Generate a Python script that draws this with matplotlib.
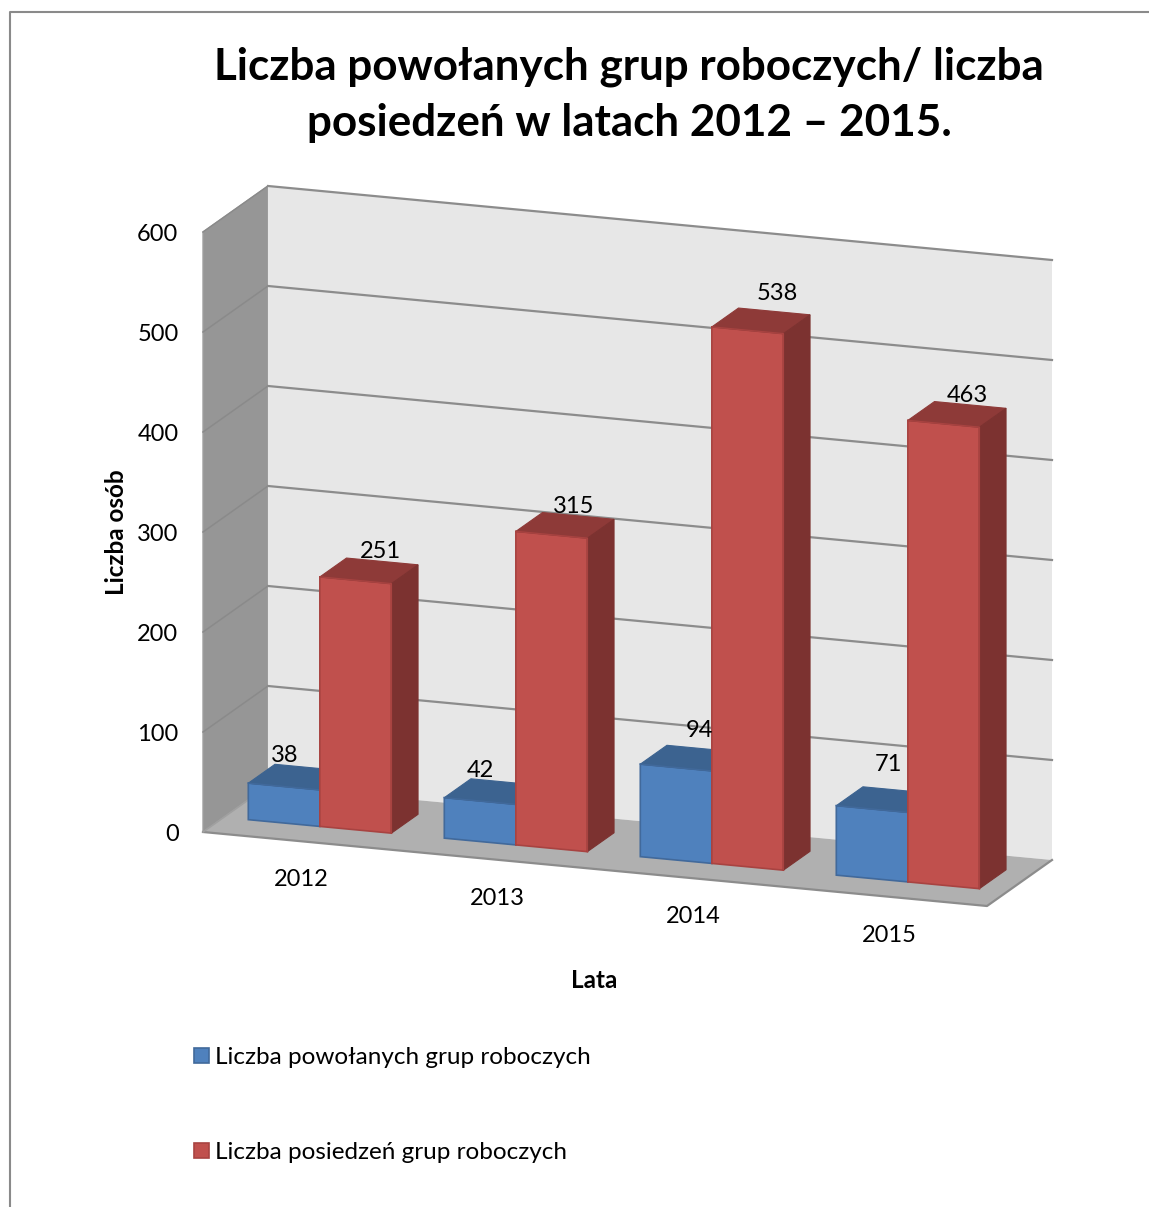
#!/usr/bin/env python
"""3D-look clustered columns, drawn on a flat axes through a small oblique projection."""
import matplotlib
matplotlib.use("Agg")
import matplotlib.pyplot as plt
from matplotlib.patches import Polygon, Rectangle

W, H = 1149, 1207

years = ["2012", "2013", "2014", "2015"]
grupy = [38, 42, 94, 71]
posiedzenia = [251, 315, 538, 463]
yticks = [0, 100, 200, 300, 400, 500, 600]
title = "Liczba powołanych grup roboczych/ liczba\nposiedzeń w latach 2012 – 2015."
legend_labels = ["Liczba powołanych grup roboczych", "Liczba posiedzeń grup roboczych"]

# label nudges in px, the original has them hand placed
off_grupy = [(0, -30), (0, -29), (23, -36), (16, -43)]
off_pos = [(25, -27), (22, -27), (29, -35), (24, -27)]

BLUE = ("#4f81bd", "#3c6390", "#3a6290", "#41699b")
RED = ("#c0504d", "#8e3a38", "#7c3230", "#a84341")

plt.rcParams["font.family"] = ["Lato", "DejaVu Sans"]


def proj(cat, val, depth=0.0):
    # cat in category widths, val in chart units, depth 0 (front) to 1 (back)
    return (203 + 196 * cat + 65 * depth, 832 + 18.5 * cat - 1.0 * val - 46 * depth)


def box(ax, cat, bw, val, cols, z):
    d0, d1 = 0.29, 0.70
    base = 1.5  # columns float a hair above the floor in the original
    face, top, side, edge = cols
    ax.add_patch(Polygon([proj(cat, base, d0), proj(cat + bw, base, d0), proj(cat + bw, val, d0), proj(cat, val, d0)],
                         fc=face, ec=edge, lw=1.2, zorder=z))
    ax.add_patch(Polygon([proj(cat, val, d0), proj(cat + bw, val, d0), proj(cat + bw, val, d1), proj(cat, val, d1)],
                         fc=top, ec=top, lw=0.8, zorder=z))
    ax.add_patch(Polygon([proj(cat + bw, base, d0), proj(cat + bw, base, d1), proj(cat + bw, val, d1), proj(cat + bw, val, d0)],
                         fc=side, ec=side, lw=0.8, zorder=z))
    ax.plot(*zip(proj(cat, val, d0), proj(cat + bw, val, d0), proj(cat + bw, base, d0)), color=edge, lw=1.0, zorder=z)


fig = plt.figure(figsize=(W / 100, H / 100), dpi=100)
ax = fig.add_axes([0, 0, 1, 1])
ax.set_xlim(0, W)
ax.set_ylim(H, 0)
ax.axis("off")

# outer chart frame, cut by the page on right and bottom
ax.plot([9.5, 9.5, W], [H, 12, 12], color="#8a8a8a", lw=1.5)

n = len(years)
top = yticks[-1]
GRID = "#8c8c8c"
ax.add_patch(Polygon([proj(0, 0, 0), proj(0, 0, 1), proj(0, top, 1), proj(0, top, 0)], fc="#969696", ec="#a0a0a0", lw=1))
ax.add_patch(Polygon([proj(0, 0, 1), proj(n, 0, 1), proj(n, top, 1), proj(0, top, 1)], fc="#e7e7e7", ec="none"))
ax.add_patch(Polygon([proj(0, 0, 0), proj(n, 0, 0), proj(n, 0, 1), proj(0, 0, 1)], fc="#b0b0b0", ec="none"))
ax.plot(*zip(proj(0, 0, 0), proj(n, 0, 0), proj(n, 0, 1)), color=GRID, lw=1.6)
ax.plot(*zip(proj(0, 0, 0), proj(0, 0, 1)), color="#a0a0a0", lw=1.2)
for t in yticks:
    if t > 0:
        ax.plot(*zip(proj(0, t, 0), proj(0, t, 1)), color="#8a8a8a", lw=1.1)
        ax.plot(*zip(proj(0, t, 1), proj(n, t, 1)), color=GRID, lw=1.6)
    x, y = proj(0, t, 0)
    ax.text(x - 24.5, y + 2.5, str(t), ha="right", va="center", fontsize=17, color="black")

bw = 0.365
gap = (1 - 2 * bw) / 2
for i, yr in enumerate(years):
    box(ax, i + gap, bw, grupy[i], BLUE, 3 + i * 2)
    box(ax, i + gap + bw, bw, posiedzenia[i], RED, 4 + i * 2)
    # category label sits under the front floor edge
    x, y = proj(i + 0.5, 0, 0)
    ax.text(x, y + 38.5, yr, ha="center", va="center", fontsize=17)
    x, y = proj(i + gap, grupy[i], 0.29)
    ax.text(x + 36.5 + off_grupy[i][0], y + off_grupy[i][1] + 2, str(grupy[i]), ha="center", va="center",
            fontsize=17, zorder=20)
    x, y = proj(i + gap + bw, posiedzenia[i], 0.29)
    ax.text(x + 36 + off_pos[i][0], y + off_pos[i][1] + 2, str(posiedzenia[i]), ha="center", va="center",
            fontsize=17, zorder=20)

ax.text(629, 95, title, ha="center", va="center", fontsize=31.7, fontweight="bold", linespacing=1.49)
ax.text(116.5, 532, "Liczba osób", rotation=90, ha="center", va="center", fontsize=17.5, fontweight="bold")
ax.text(594, 981, "Lata", ha="center", va="center", fontsize=17.5, fontweight="bold")

for ly, col, lab in zip([1056, 1151], [BLUE, RED], legend_labels):
    ax.add_patch(Rectangle((193.5, ly - 8), 15, 15, fc=col[0], ec=col[3], lw=1.2))
    ax.text(215, ly + 1.5, lab, ha="left", va="center", fontsize=17.5)

fig.savefig("out.png", dpi=100)
print("Wrote out.png")
